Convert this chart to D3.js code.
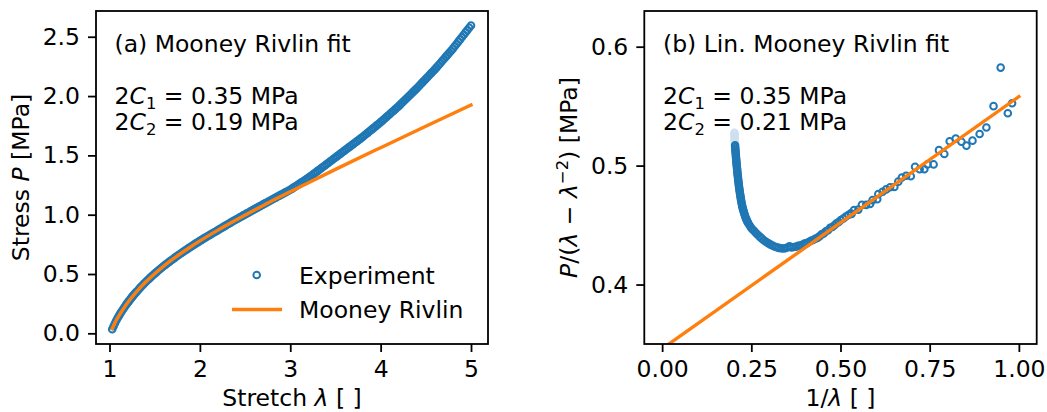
<!DOCTYPE html>
<html>
<head>
<meta charset="utf-8">
<script src="https://cdn.jsdelivr.net/npm/d3@7"></script>
<style>
  body { margin: 0; background: #fff; }
  text { font-family: "DejaVu Sans", sans-serif; }
</style>
</head>
<body>
<div id="chart"></div>
<script>
// ---- data ----
// (a) experiment: stretch vs stress
const expStretch = [1.03, 1.045, 1.06, 1.075, 1.09, 1.105, 1.12, 1.135, 1.15, 1.165, 1.18, 1.19, 1.2, 1.21, 1.22, 1.23, 1.24, 1.25, 1.26, 1.27, 1.28, 1.29, 1.3,
  1.32, 1.34, 1.36, 1.38, 1.4, 1.42, 1.44, 1.46, 1.48, 1.5, 1.52, 1.54, 1.56, 1.58, 1.6, 1.62, 1.64, 1.66, 1.68, 1.7, 1.72, 1.74, 1.76, 1.78, 1.8,
  1.82, 1.84, 1.86, 1.88, 1.9, 1.92, 1.94, 1.96, 1.98, 2.0,
  2.02, 2.04, 2.06, 2.08, 2.1, 2.12, 2.14, 2.16, 2.18, 2.2, 2.22, 2.24, 2.26, 2.28, 2.3, 2.32, 2.34, 2.36, 2.38, 2.4,
  2.42, 2.44, 2.46, 2.48, 2.5, 2.52, 2.54, 2.56, 2.58, 2.6, 2.62, 2.64, 2.66, 2.68, 2.7, 2.72, 2.74, 2.76, 2.78, 2.8,
  2.82, 2.84, 2.86, 2.88, 2.9, 2.92, 2.94, 2.96, 2.98, 3.0,
  3.02, 3.04, 3.06, 3.08, 3.1, 3.12, 3.14, 3.16, 3.18, 3.2, 3.22, 3.24, 3.26, 3.28, 3.3, 3.32, 3.34, 3.36, 3.38, 3.4,
  3.42, 3.44, 3.46, 3.48, 3.5, 3.52, 3.54, 3.56, 3.58, 3.6, 3.62, 3.64, 3.66, 3.68, 3.7, 3.72, 3.74, 3.76, 3.78, 3.8,
  3.82, 3.84, 3.86, 3.88, 3.9, 3.92, 3.94, 3.96, 3.98, 4.0, 4.02, 4.04, 4.06, 4.08, 4.1, 4.12, 4.14, 4.16, 4.18, 4.2,
  4.22, 4.24, 4.26, 4.28, 4.3, 4.32, 4.34, 4.36, 4.38, 4.4, 4.42, 4.44, 4.46, 4.48, 4.5, 4.52, 4.54, 4.56, 4.58, 4.6,
  4.62, 4.64, 4.66, 4.68, 4.7, 4.72, 4.74, 4.76, 4.78, 4.8, 4.82, 4.84, 4.86, 4.88, 4.9, 4.92, 4.94, 4.96, 4.98, 5.0];
const expStress = [0.035, 0.06, 0.085, 0.108, 0.129, 0.149, 0.168, 0.186, 0.203, 0.22, 0.236, 0.247, 0.257, 0.267, 0.277, 0.287, 0.297, 0.307, 0.316, 0.325, 0.334, 0.343, 0.351,
  0.368, 0.385, 0.401, 0.417, 0.432, 0.447, 0.461, 0.476, 0.489, 0.503, 0.516, 0.529, 0.542, 0.555, 0.567, 0.579, 0.591, 0.602, 0.614, 0.625, 0.636, 0.647, 0.658, 0.669, 0.679,
  0.69, 0.7, 0.71, 0.72, 0.73, 0.74, 0.75, 0.76, 0.769, 0.779,
  0.788, 0.798, 0.807, 0.816, 0.825, 0.834, 0.843, 0.852, 0.861, 0.87, 0.879, 0.888, 0.897, 0.906, 0.915, 0.924, 0.933, 0.942, 0.951, 0.96,
  0.968, 0.977, 0.985, 0.994, 1.002, 1.011, 1.019, 1.028, 1.036, 1.045, 1.053, 1.062, 1.07, 1.078, 1.087, 1.095, 1.103, 1.111, 1.12, 1.128,
  1.136, 1.144, 1.153, 1.161, 1.169, 1.177, 1.186, 1.194, 1.202, 1.21,
  1.22, 1.23, 1.24, 1.25, 1.26, 1.27, 1.28, 1.29, 1.3, 1.31, 1.321, 1.333, 1.344, 1.356, 1.367, 1.379, 1.39, 1.402, 1.413, 1.425,
  1.436, 1.448, 1.459, 1.471, 1.482, 1.494, 1.505, 1.517, 1.528, 1.54, 1.551, 1.563, 1.574, 1.586, 1.597, 1.609, 1.62, 1.632, 1.643, 1.655,
  1.667, 1.68, 1.692, 1.705, 1.717, 1.73, 1.742, 1.755, 1.767, 1.78, 1.793, 1.807, 1.82, 1.834, 1.847, 1.861, 1.874, 1.888, 1.901, 1.915,
  1.93, 1.945, 1.96, 1.975, 1.99, 2.005, 2.02, 2.035, 2.05, 2.065, 2.081, 2.097, 2.113, 2.129, 2.145, 2.161, 2.177, 2.193, 2.209, 2.225,
  2.242, 2.26, 2.277, 2.295, 2.312, 2.33, 2.347, 2.365, 2.382, 2.4, 2.42, 2.439, 2.459, 2.478, 2.498, 2.517, 2.537, 2.556, 2.576, 2.595];

// (a) Mooney Rivlin fit curve
const fitStretch = [1.03, 1.06, 1.1, 1.15, 1.2, 1.3, 1.4, 1.5, 1.6, 1.7, 1.8, 1.9, 2.0, 2.2, 2.4, 2.6, 2.8, 3.0, 3.5, 4.0, 4.5, 5.0];
const fitStress = [0.04, 0.09, 0.143, 0.203, 0.257, 0.351, 0.432, 0.503, 0.567, 0.625, 0.679, 0.73, 0.779, 0.87, 0.955, 1.037, 1.117, 1.194, 1.382, 1.565, 1.746, 1.924];

// (b) linearised experiment: 1/lambda vs P/(lambda - lambda^-2)
const linInv = [0.2045, 0.2048, 0.2052, 0.2056, 0.206, 0.2064, 0.2068, 0.2072, 0.2077, 0.2081, 0.2086, 0.209, 0.2095, 0.21, 0.2105, 0.211,
  0.2115, 0.212, 0.2126, 0.2131, 0.2137, 0.2143, 0.2149, 0.2155, 0.2162, 0.2169, 0.2176, 0.2183, 0.2191, 0.2199, 0.2207, 0.2216,
  0.2225, 0.2235, 0.2245, 0.2255, 0.2266, 0.2278, 0.229, 0.2303, 0.2316, 0.233, 0.2345, 0.2361, 0.2377, 0.2393, 0.241,
  0.245, 0.249, 0.253, 0.258, 0.263, 0.268, 0.2735, 0.279, 0.285, 0.291, 0.297,
  0.303, 0.309, 0.315, 0.321, 0.327, 0.333, 0.339, 0.345, 0.351, 0.357, 0.363, 0.369, 0.375, 0.381, 0.387, 0.393, 0.399, 0.405, 0.411, 0.417,
  0.423, 0.429, 0.435, 0.441, 0.447, 0.453, 0.459, 0.465, 0.471, 0.477, 0.483, 0.489, 0.495, 0.501, 0.508, 0.515, 0.522, 0.529,
  0.531, 0.538, 0.55, 0.56, 0.572, 0.583, 0.59, 0.603, 0.606, 0.618, 0.628, 0.639, 0.651, 0.662, 0.672, 0.684, 0.697, 0.709, 0.722, 0.735,
  0.744, 0.761, 0.776, 0.791, 0.806, 0.823, 0.839, 0.853, 0.87, 0.89, 0.909, 0.929, 0.949, 0.969, 0.981];
const linRatio = [0.517, 0.5155, 0.514, 0.5125, 0.511, 0.5095, 0.508, 0.5065, 0.505, 0.5035, 0.502, 0.5005, 0.499, 0.4975, 0.496, 0.4945,
  0.493, 0.4915, 0.49, 0.4885, 0.487, 0.4855, 0.484, 0.4825, 0.481, 0.4795, 0.478, 0.4765, 0.475, 0.4735, 0.472, 0.4705,
  0.469, 0.4675, 0.466, 0.4648, 0.4635, 0.4622, 0.461, 0.4597, 0.4585, 0.4572, 0.456, 0.4549, 0.4538, 0.4528, 0.4518,
  0.4498, 0.448, 0.4465, 0.445, 0.4433, 0.4418, 0.4403, 0.4388, 0.4373, 0.436, 0.4348,
  0.4338, 0.4328, 0.432, 0.4313, 0.4308, 0.4305, 0.4303, 0.4305, 0.4312, 0.4322, 0.4312, 0.4315, 0.4318, 0.4325, 0.4328, 0.4334, 0.4345, 0.4348, 0.4357, 0.4368,
  0.4375, 0.4385, 0.4392, 0.4405, 0.4422, 0.443, 0.4448, 0.4456, 0.4478, 0.4484, 0.4498, 0.4515, 0.4526, 0.4542, 0.4555, 0.4572, 0.4585, 0.46,
  0.4593, 0.4627, 0.463, 0.467, 0.467, 0.4677, 0.471, 0.4717, 0.476, 0.478, 0.48, 0.4818, 0.482, 0.4865, 0.49, 0.4915, 0.491, 0.499, 0.497, 0.497,
  0.501, 0.501, 0.513, 0.5098, 0.5205, 0.5227, 0.52, 0.5168, 0.521, 0.5266, 0.532, 0.55, 0.5824, 0.544, 0.5524];
// faint top end of the dense band
const fadedInv = [0.2027, 0.2029, 0.2031, 0.2033, 0.2035, 0.2038, 0.2041];
const fadedRatio = [0.5275, 0.526, 0.5245, 0.523, 0.5215, 0.52, 0.5185];

// (b) linear fit
const linFitInv = [0, 1];
const linFitRatio = [0.346, 0.558];

// ticks
const aXTicks = [1, 2, 3, 4, 5];
const aYTicks = [0, 0.5, 1.0, 1.5, 2.0, 2.5];
const bXTicks = [0, 0.25, 0.5, 0.75, 1.0];
const bYTicks = [0.4, 0.5, 0.6];

const blue = '#1f77b4', orange = '#ff7f0e', faded = '#cde0ef';
const fs = 23.5;
const W = 1047, H = 412;

const svg = d3.select('#chart').append('svg')
  .attr('width', W).attr('height', H)
  .style('background', '#fff');

const toPts = (xs, ys) => xs.map((x, i) => [x, ys[i]]);

function makePanel(id, box, xDom, yDom, xTicks, yTicks, xFmt, yFmt) {
  const x = d3.scaleLinear().domain(xDom).range([box.l, box.r]);
  const y = d3.scaleLinear().domain(yDom).range([box.b, box.t]);

  svg.append('clipPath').attr('id', 'clip-' + id)
    .append('rect').attr('x', box.l).attr('y', box.t)
    .attr('width', box.r - box.l).attr('height', box.b - box.t);

  const plotg = svg.append('g').attr('clip-path', `url(#clip-${id})`);

  const xAxis = d3.axisBottom(x).tickValues(xTicks).tickFormat(xFmt).tickSize(8).tickPadding(8);
  const yAxis = d3.axisLeft(y).tickValues(yTicks).tickFormat(yFmt).tickSize(8).tickPadding(8);

  const xg = svg.append('g').attr('transform', `translate(0,${box.b})`).call(xAxis);
  const yg = svg.append('g').attr('transform', `translate(${box.l},0)`).call(yAxis);
  [xg, yg].forEach(g => {
    g.select('.domain').remove();
    g.selectAll('.tick line').attr('stroke', '#000').attr('stroke-width', 1.8);
    g.selectAll('.tick text').attr('fill', '#000').style('font-size', fs + 'px')
      .style('font-family', '"DejaVu Sans", sans-serif');
  });

  return { x, y, plotg, box };
}

function drawFrame(p) {
  svg.append('rect')
    .attr('x', p.box.l).attr('y', p.box.t)
    .attr('width', p.box.r - p.box.l).attr('height', p.box.b - p.box.t)
    .attr('fill', 'none').attr('stroke', '#000').attr('stroke-width', 1.8);
}

const ringR = 3.3, ringW = 2;

function scatter(p, pts, col) {
  p.plotg.append('g').selectAll('circle')
    .data(pts).join('circle')
    .attr('cx', d => p.x(d[0])).attr('cy', d => p.y(d[1]))
    .attr('r', ringR)
    .attr('fill', 'none').attr('stroke', col).attr('stroke-width', ringW);
}

function line(p, pts, curve) {
  const gen = d3.line().x(d => p.x(d[0])).y(d => p.y(d[1])).curve(curve);
  p.plotg.append('path').datum(pts)
    .attr('d', gen)
    .attr('fill', 'none').attr('stroke', orange).attr('stroke-width', 3.4)
    .attr('stroke-linecap', 'square');
}

// mathtext-like "2C_k = value MPa"
function paramText(x, yBase, sub, value) {
  const t = svg.append('text').attr('x', x).attr('y', yBase).style('font-size', fs + 'px').attr('fill', '#000');
  t.append('tspan').text('2');
  t.append('tspan').style('font-style', 'italic').text('C');
  t.append('tspan').style('font-size', (fs * 0.7) + 'px').attr('dy', 5).text(sub);
  t.append('tspan').attr('dy', -5).text(' = ' + value + ' MPa');
}

// ---------------- panel (a) ----------------
const pa = makePanel('a', { l: 96, r: 488, t: 11, b: 344 }, [0.8506, 5.188], [-0.09, 2.717],
  aXTicks, aYTicks, d3.format('d'), d3.format('.1f'));

scatter(pa, toPts(expStretch, expStress), blue);
line(pa, toPts(fitStretch, fitStress), d3.curveMonotoneX);
drawFrame(pa);

svg.append('text').attr('x', 114.5).attr('y', 51.5).style('font-size', fs + 'px').text('(a) Mooney Rivlin fit');
paramText(114.5, 103.5, '1', '0.35');
paramText(114.5, 130, '2', '0.19');

// legend
svg.append('circle').attr('cx', 256.7).attr('cy', 275).attr('r', ringR)
  .attr('fill', 'none').attr('stroke', blue).attr('stroke-width', ringW);
svg.append('text').attr('x', 299).attr('y', 283.5).style('font-size', fs + 'px').text('Experiment');
svg.append('line').attr('x1', 232).attr('x2', 282).attr('y1', 309.5).attr('y2', 309.5)
  .attr('stroke', orange).attr('stroke-width', 3.4);
svg.append('text').attr('x', 299).attr('y', 318).style('font-size', fs + 'px').text('Mooney Rivlin');

// axis labels
const xlA = svg.append('text').attr('x', 292).attr('y', 406).attr('text-anchor', 'middle').style('font-size', fs + 'px');
xlA.append('tspan').text('Stretch ');
xlA.append('tspan').style('font-style', 'italic').text('λ');
xlA.append('tspan').text(' [ ]');

const ylA = svg.append('text').attr('transform', 'translate(29,177.5) rotate(-90)').attr('text-anchor', 'middle').style('font-size', fs + 'px');
ylA.append('tspan').text('Stress ');
ylA.append('tspan').style('font-style', 'italic').text('P');
ylA.append('tspan').text(' [MPa]');

// ---------------- panel (b) ----------------
const pb = makePanel('b', { l: 644.3, r: 1036.7, t: 11, b: 344 }, [-0.05, 1.05], [0.35, 0.63],
  bXTicks, bYTicks, d3.format('.2f'), d3.format('.1f'));

scatter(pb, toPts(fadedInv, fadedRatio), faded);
scatter(pb, toPts(linInv, linRatio), blue);
line(pb, toPts(linFitInv, linFitRatio), d3.curveLinear);
drawFrame(pb);

svg.append('text').attr('x', 663).attr('y', 51.5).style('font-size', fs + 'px').text('(b) Lin. Mooney Rivlin fit');
paramText(663, 103.5, '1', '0.35');
paramText(663, 130, '2', '0.21');

const xlB = svg.append('text').attr('x', 840.5).attr('y', 406).attr('text-anchor', 'middle').style('font-size', fs + 'px');
xlB.append('tspan').text('1/');
xlB.append('tspan').style('font-style', 'italic').text('λ');
xlB.append('tspan').text(' [ ]');

const ylB = svg.append('text').attr('transform', 'translate(577,177.5) rotate(-90)').attr('text-anchor', 'middle').style('font-size', fs + 'px');
ylB.append('tspan').style('font-style', 'italic').text('P');
ylB.append('tspan').text('/(');
ylB.append('tspan').style('font-style', 'italic').text('λ');
ylB.append('tspan').text(' − ');
ylB.append('tspan').style('font-style', 'italic').text('λ');
ylB.append('tspan').style('font-size', (fs * 0.7) + 'px').attr('dy', -9).text('−2');
ylB.append('tspan').attr('dy', 9).text(') [MPa]');
</script>
</body>
</html>
